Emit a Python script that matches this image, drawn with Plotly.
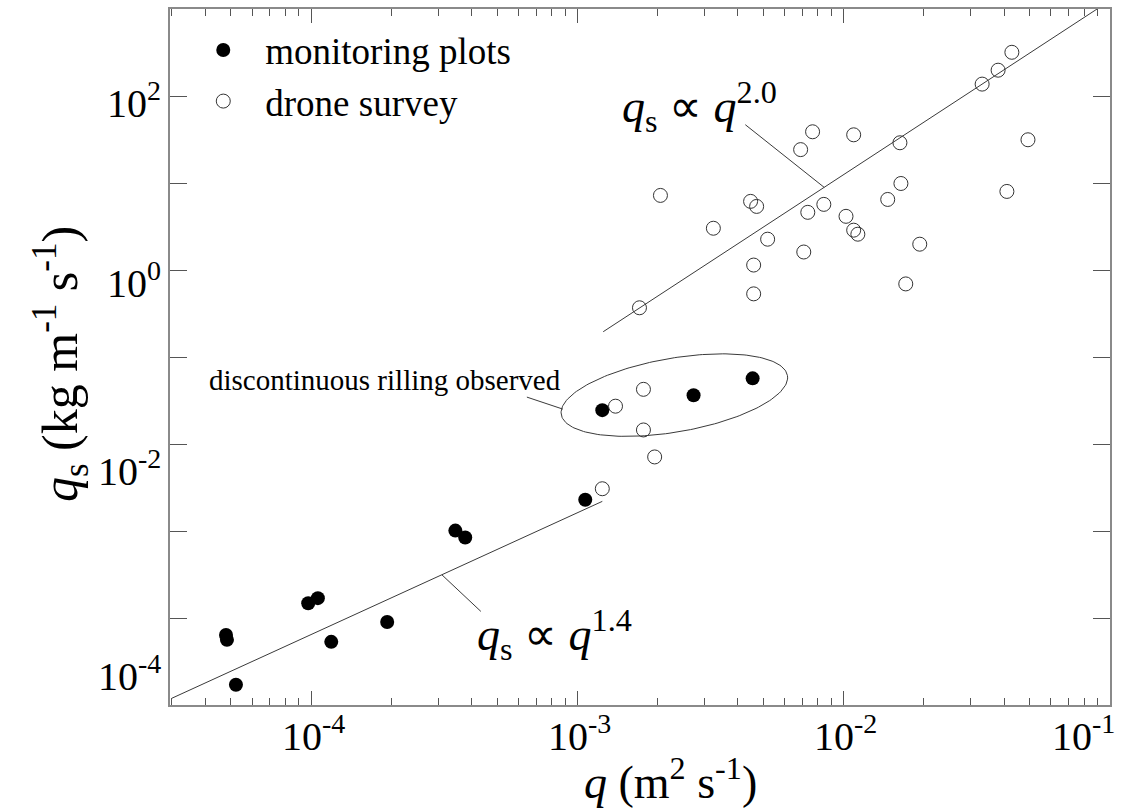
import numpy as np
import plotly.graph_objects as go

# ---------------- data ----------------
mon_q = [4.79e-5, 4.83e-5, 5.22e-5, 9.75e-5, 1.06e-4, 1.19e-4, 1.93e-4,
         3.48e-4, 3.79e-4, 1.07e-3, 1.24e-3, 2.73e-3, 4.55e-3]
mon_qs = [6.39e-5, 5.61e-5, 1.71e-5, 1.48e-4, 1.69e-4, 5.32e-5, 9.0e-5,
          1.01e-3, 8.43e-4, 2.29e-3, 0.0245, 0.0363, 0.0568]

drone_q = [1.24e-3, 1.39e-3, 1.77e-3, 1.77e-3, 1.95e-3, 1.71e-3, 2.05e-3,
           3.24e-3, 4.47e-3, 4.71e-3, 5.18e-3, 4.59e-3, 4.59e-3, 7.08e-3,
           7.33e-3, 8.42e-3, 6.89e-3, 7.64e-3, 0.0102, 0.0109, 0.0113,
           0.0109, 0.01626, 0.0164, 0.01463, 0.0193, 0.0171, 0.0331,
           0.0380, 0.0428, 0.0492, 0.0410]
drone_qs = [3.06e-3, 0.0272, 0.0425, 0.0145, 7.1e-3, 0.368, 7.2,
            3.02, 6.15, 5.38, 2.26, 1.14, 0.532, 1.61,
            4.60, 5.68, 24.2, 38.8, 4.14, 2.87, 2.58,
            35.8, 29.0, 9.87, 6.47, 1.98, 0.692, 137,
            198, 318, 31.4, 8.0]

# power-law fits  qs = a * q^b
fit1_a, fit1_b = 25.7, 1.4
fit1_q = [3.0e-5, 1.24e-3]
fit2_a, fit2_b = 1.25e5, 2.0
fit2_q = [1.25e-3, 0.0895]

x_ticks = [-4, -3, -2, -1]
x_tick_text = ["10<sup>-4</sup>", "10<sup>-3</sup>", "10<sup>-2</sup>", "10<sup>-1</sup>"]
y_ticks = [2, 0, -2, -4]
y_tick_text = ["10<sup>2</sup>", "10<sup>0</sup>", "10<sup>-2</sup>", "10<sup>-4</sup>"]

FONT = "Liberation Serif"
LINE = "#3a3a3a"
AX = "#8a8a8a"

fig = go.Figure()

# fit lines
for qa, a, b in [(fit1_q, fit1_a, fit1_b), (fit2_q, fit2_a, fit2_b)]:
    qq = np.array(qa)
    fig.add_trace(go.Scatter(x=qq, y=a * qq ** b, mode="lines",
                             line=dict(color=LINE, width=1), showlegend=False,
                             hoverinfo="skip"))

# leader lines (annotation pointers)
leaders = [
    ([4.27e-3, 8.45e-3], [46.8, 8.9]),
    ([3.10e-4, 4.34e-4], [3.13e-4, 1.19e-4]),
    ([6.46e-4, 8.81e-4], [0.0346, 0.0252]),
]
for lx, ly in leaders:
    fig.add_trace(go.Scatter(x=lx, y=ly, mode="lines",
                             line=dict(color=LINE, width=1), showlegend=False,
                             hoverinfo="skip"))

# ellipse around "discontinuous rilling" points
ell_center = (-2.636, -1.438)  # log10 q, log10 qs
ell_a_px, ell_b_px, ell_ang = 115, 37, np.deg2rad(9.8)
xdec_px, ydec_px = 266.8, 87.25
t = np.linspace(0, 2 * np.pi, 200)
u, v = ell_a_px * np.cos(t), ell_b_px * np.sin(t)
X = u * np.cos(ell_ang) - v * np.sin(ell_ang)
Y = u * np.sin(ell_ang) + v * np.cos(ell_ang)
fig.add_trace(go.Scatter(x=10 ** (ell_center[0] + X / xdec_px),
                         y=10 ** (ell_center[1] + Y / ydec_px),
                         mode="lines", line=dict(color=LINE, width=1),
                         showlegend=False, hoverinfo="skip"))

fig.add_trace(go.Scatter(x=mon_q, y=mon_qs, mode="markers", name="monitoring plots",
                         marker=dict(symbol="circle", size=14, color="black")))
fig.add_trace(go.Scatter(x=drone_q, y=drone_qs, mode="markers", name="drone survey",
                         marker=dict(symbol="circle-open", size=14, color="#333",
                                     line=dict(width=1))))

annotations = []
for v_, txt in zip(x_ticks, x_tick_text):
    annotations.append(dict(x=v_, y=0, xref="x", yref="paper", text=txt,
                            showarrow=False, yanchor="top", yshift=-1,
                            xshift=(-27 if v_ == -1 else 2),
                            font=dict(family=FONT, size=40, color="black")))
y_shifts = {2: -4, 0: -10, -2: -24, -4: -55}
for v_, txt in zip(y_ticks, y_tick_text):
    annotations.append(dict(x=0, y=v_, xref="paper", yref="y", text=txt,
                            showarrow=False, xanchor="right", xshift=-7,
                            yshift=y_shifts[v_],
                            font=dict(family=FONT, size=40, color="black")))

annotations += [
    dict(x=-2.542, y=1.874, xref="x", yref="y", showarrow=False,
         text="<i>q</i><sub>s</sub> ∝ <i>q</i><sup>2.0</sup>",
         font=dict(family=FONT, size=46, color="black")),
    dict(x=-3.085, y=-4.189, xref="x", yref="y", showarrow=False,
         text="<i>q</i><sub>s</sub> ∝ <i>q</i><sup>1.4</sup>",
         font=dict(family=FONT, size=46, color="black")),
    dict(x=-4.39, y=-1.266, xref="x", yref="y", showarrow=False, xanchor="left",
         text="discontinuous rilling observed",
         font=dict(family=FONT, size=29, color="black")),
    dict(x=0.5, y=0, xref="paper", yref="paper", showarrow=False,
         yanchor="middle", yshift=-74, xshift=30,
         text="<i>q</i> (m<sup>2</sup> s<sup>-1</sup>)",
         font=dict(family=FONT, size=46, color="black")),
    dict(x=0, y=0.5, xref="paper", yref="paper", showarrow=False,
         xanchor="center", xshift=-110, yshift=-7, textangle=-90,
         text="<i>q</i><sub>s</sub> (kg m<sup>-1</sup> s<sup>-1</sup>)",
         font=dict(family=FONT, size=50, color="black")),
]

fig.update_layout(
    width=1140, height=809,
    margin=dict(l=170, r=30, t=7, b=104),
    paper_bgcolor="white", plot_bgcolor="white",
    font=dict(family=FONT, color="black"),
    showlegend=True,
    legend=dict(x=0.012, y=0.985, xanchor="left", yanchor="top",
                bgcolor="rgba(0,0,0,0)", font=dict(family=FONT, size=37),
                itemwidth=74),
    xaxis=dict(type="log", range=[-4.53, -1.0], showgrid=False, zeroline=False,
               showline=True, linecolor=AX, linewidth=1.5, mirror="allticks",
               ticks="inside", ticklen=14, tickcolor="#555", tickwidth=1,
               dtick=1, showticklabels=False,
               minor=dict(ticks="inside", ticklen=7, tickcolor="#555",
                          dtick="D1", showgrid=False)),
    yaxis=dict(type="log", range=[-5, 3], showgrid=False, zeroline=False,
               showline=True, linecolor=AX, linewidth=1.5, mirror="allticks",
               ticks="inside", ticklen=17, tickcolor="#555", tickwidth=1,
               dtick=1, showticklabels=False),
    annotations=annotations,
)

fig.write_html("out.html")
